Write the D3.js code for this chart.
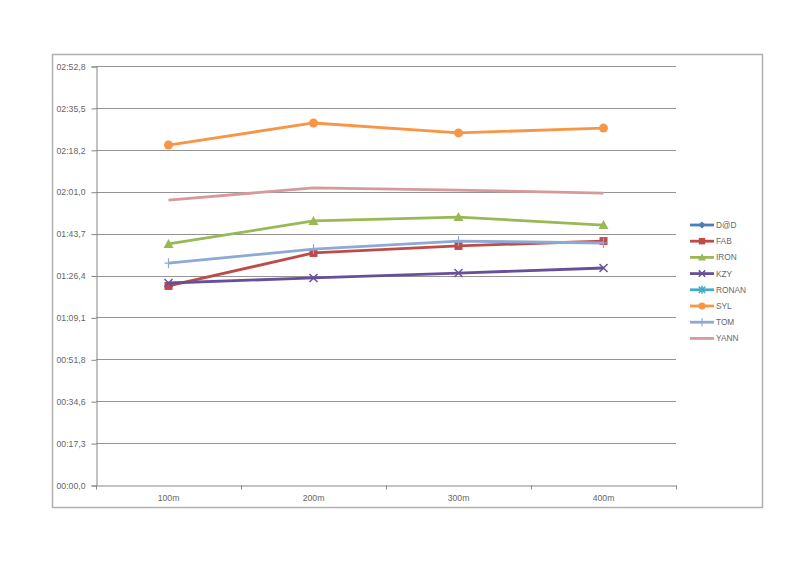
<!DOCTYPE html>
<html><head><meta charset="utf-8">
<script src="https://cdn.jsdelivr.net/npm/d3@7"></script>
<style>body{margin:0;background:#fff}svg{display:block}text{font-family:"Liberation Sans",Arial,sans-serif}</style>
</head><body>
<svg id="c" width="800" height="566"></svg>
<script>
const categories = ["100m","200m","300m","400m"];
const seriesNames = ["D@D","FAB","IRON","KZY","RONAN","SYL","TOM","YANN"];
// times in seconds
const dad   = [null,null,null,null];
const fab   = [82.1, 95.7, 98.6, 100.6];
const iron  = [99.4, 108.9, 110.5, 107.2];
const kzy   = [83.3, 85.4, 87.4, 89.5];
const ronan = [null,null,null,null];
const syl   = [140.2, 149.3, 145.2, 147.2];
const tom   = [91.5, 97.3, 100.6, 99.8];
const yann  = [117.5, 122.5, 121.6, 120.4];
const yTickValues = [0,17.28,34.56,51.84,69.12,86.4,103.68,120.96,138.24,155.52,172.8];
const yTickLabels = ["00:00,0","00:17,3","00:34,6","00:51,8","01:09,1","01:26,4","01:43,7","02:01,0","02:18,2","02:35,5","02:52,8"];

const colors = ["#4A7EBB","#BE4B48","#98B954","#67509A","#46AAC5","#F79646","#8DA9D5","#D69A9A"];
const markers = ["diamond","square","triangle","x","star","circle","plus","none"];
const data = [dad,fab,iron,kzy,ronan,syl,tom,yann];

const svg = d3.select("#c");
// outer border
svg.append("rect").attr("x",52.5).attr("y",54.5).attr("width",710).attr("height",453)
  .attr("fill","none").attr("stroke","#b0b0b0").attr("stroke-width",1.5);

const L=96, R=676, T=66, B=485;
const x = d3.scaleBand().domain(categories).range([L,R]);
const y = d3.scaleLinear().domain([0,172.8]).range([B,T]);

// gridlines
svg.append("g").selectAll("line").data(yTickValues.slice(1)).join("line")
  .attr("x1",L).attr("x2",R).attr("y1",d=>Math.round(y(d))+0.5).attr("y2",d=>Math.round(y(d))+0.5)
  .attr("stroke","#949494").attr("stroke-width",1);

// y axis
const yAxis = d3.axisLeft(y).tickValues(yTickValues).tickSize(5).tickPadding(6)
  .tickFormat((d,i)=>yTickLabels[i]);
const gy = svg.append("g").attr("transform",`translate(${L+0.5},0.5)`).call(yAxis);
gy.select(".domain").attr("stroke","#868686");
gy.selectAll(".tick line").attr("stroke","#868686");
gy.selectAll("text").attr("fill","#666").style("font-size","8.7px");

// x axis
const xAxis = d3.axisBottom(x).tickSize(0).tickPadding(9);
const gx = svg.append("g").attr("transform",`translate(0,${B+0.5})`).call(xAxis);
gx.select(".domain").attr("stroke","#868686");
gx.selectAll("text").attr("fill","#666").style("font-size","8.7px");
const bounds = categories.map(c=>x(c)).concat([R]);
gx.append("g").selectAll("line").data(bounds).join("line")
  .attr("x1",d=>Math.round(d)+0.5).attr("x2",d=>Math.round(d)+0.5).attr("y1",0).attr("y2",4)
  .attr("stroke","#868686");

const cx = c => x(c)+x.bandwidth()/2;

function drawMarker(g, type, px, py, color, s){
  s = s || 1;
  if(type==="circle") g.append("circle").attr("cx",px).attr("cy",py).attr("r",4.5*s).attr("fill",color);
  else if(type==="square") g.append("rect").attr("x",px-4*s).attr("y",py-4*s).attr("width",8*s).attr("height",8*s).attr("fill",color);
  else if(type==="triangle") g.append("path").attr("d",`M${px},${py-5*s}L${px+5*s},${py+4*s}L${px-5*s},${py+4*s}Z`).attr("fill",color);
  else if(type==="diamond") g.append("path").attr("d",`M${px},${py-4.5*s}L${px+4.5*s},${py}L${px},${py+4.5*s}L${px-4.5*s},${py}Z`).attr("fill",color);
  else if(type==="x") g.append("path").attr("d",`M${px-4*s},${py-4*s}L${px+4*s},${py+4*s}M${px-4*s},${py+4*s}L${px+4*s},${py-4*s}`).attr("stroke",color).attr("stroke-width",1.5).attr("fill","none");
  else if(type==="star") g.append("path").attr("d",`M${px-4*s},${py-4*s}L${px+4*s},${py+4*s}M${px-4*s},${py+4*s}L${px+4*s},${py-4*s}M${px},${py-5*s}L${px},${py+5*s}`).attr("stroke",color).attr("stroke-width",1.5).attr("fill","none");
  else if(type==="plus") g.append("path").attr("d",`M${px-4*s},${py}L${px+4*s},${py}M${px},${py-5*s}L${px},${py+5*s}`).attr("stroke",color).attr("stroke-width",1.2).attr("fill","none");
}

const line = d3.line().defined(d=>d.v!=null).x(d=>cx(d.c)).y(d=>y(d.v));
data.forEach((arr,si)=>{
  const pts = categories.map((c,i)=>({c,v:arr[i]}));
  const g = svg.append("g");
  g.append("path").datum(pts).attr("d",line).attr("fill","none")
    .attr("stroke",colors[si]).attr("stroke-width",2.8).attr("stroke-linejoin","round");
  pts.filter(p=>p.v!=null).forEach(p=>drawMarker(g,markers[si],cx(p.c),y(p.v),colors[si]));
});

// legend
const lg = svg.append("g");
seriesNames.forEach((n,i)=>{
  const ly = 225 + i*16.2;
  lg.append("line").attr("x1",690).attr("x2",714).attr("y1",ly).attr("y2",ly)
    .attr("stroke",colors[i]).attr("stroke-width",2.8);
  drawMarker(lg,markers[i],702,ly,colors[i],0.8);
  lg.append("text").attr("x",716).attr("y",ly+3).text(n).attr("fill","#666").style("font-size","8.3px");
});
</script>
</body></html>
